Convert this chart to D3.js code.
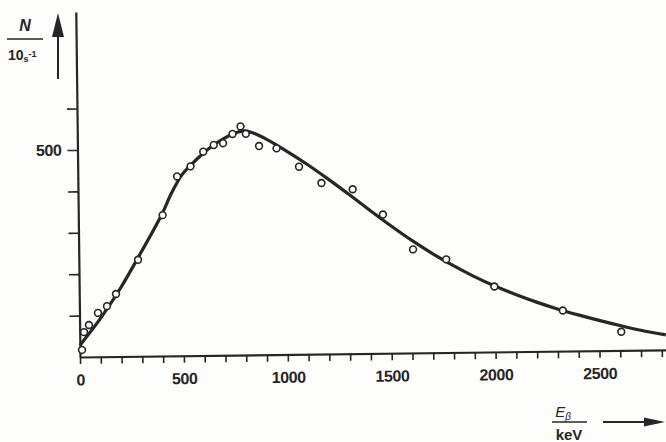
<!DOCTYPE html>
<html>
<head>
<meta charset="utf-8">
<script src="https://cdn.jsdelivr.net/npm/d3@7"></script>
<style>
  body { margin: 0; background: #fdfdfc; }
  svg { display: block; }
  text { font-family: "Liberation Sans", Arial, sans-serif; fill: #262626; }
</style>
</head>
<body>
<div id="chart"></div>
<script>
// measured points (energy in keV, counts)
var pointE = [10, 21, 45, 89, 133, 177, 285, 406, 478, 543, 605, 656, 701, 747, 786, 811, 874, 958, 1065, 1172, 1322, 1466, 1609, 1768, 1998, 2326, 2606];
var pointN = [17, 60, 77, 106, 122, 151, 233, 340, 433, 457, 492, 508, 512, 534, 552, 534, 504, 498, 453, 413, 397, 335, 250, 225, 158, 98, 45];

// fitted curve
var curveE = [0, 100, 200, 300, 400, 450, 500, 550, 600, 650, 700, 750, 800, 850, 900, 1000, 1100, 1200, 1300, 1400, 1500, 1600, 1700, 1800, 1900, 2000, 2100, 2200, 2300, 2400, 2500, 2600, 2700, 2820];
var curveN = [28, 92, 166, 251, 340, 393, 436, 463, 486, 506, 522, 534, 541, 535, 523, 493, 460, 424, 386, 347, 309, 273, 240, 210, 183, 159, 138, 119, 102, 87, 73, 60, 48, 36];

// ticks
var xTicks = d3.range(0, 2900, 100);
var xLabels = [0, 500, 1000, 1500, 2000, 2500];
var yTicks = [100, 200, 300, 400, 500, 600];
var yLabels = [500];

var ink = "#262626";

var svg = d3.select("#chart")
  .append("svg")
    .attr("width", 666)
    .attr("height", 442);

svg.append("rect")
  .attr("width", 666)
  .attr("height", 442)
  .attr("fill", "#fdfdfc");

var x = d3.scaleLinear().domain([0, 2820]).range([80, 666]);
var y = d3.scaleLinear().domain([0, 833]).range([357, 12]);

// the scanned plot is slightly tilted
var g = svg.append("g")
  .attr("transform", "rotate(-0.7,80,357)");

// X axis
var xAxis = g.append("g")
  .attr("transform", "translate(0,357)")
  .call(d3.axisBottom(x)
    .tickValues(xTicks)
    .tickSize(7)
    .tickSizeOuter(0)
    .tickPadding(10)
    .tickFormat(function(d) { return xLabels.indexOf(d) >= 0 ? d : ""; }));

// Y axis
var yAxis = g.append("g")
  .attr("transform", "translate(80,0)")
  .call(d3.axisLeft(y)
    .tickValues(yTicks)
    .tickSize(10)
    .tickSizeOuter(0)
    .tickPadding(6)
    .tickFormat(function(d) { return yLabels.indexOf(d) >= 0 ? d : ""; }));

[xAxis, yAxis].forEach(function(a) {
  a.attr("font-family", null).attr("font-size", null);
  a.select(".domain").attr("stroke", ink).attr("stroke-width", 2.2);
  a.selectAll(".tick line").attr("stroke", ink).attr("stroke-width", 1.6);
  a.selectAll(".tick text")
    .attr("fill", ink)
    .style("font-size", "16px")
    .style("font-weight", "bold")
    .style("letter-spacing", "-0.4px");
});

// fitted curve
var line = d3.line()
  .x(function(d, i) { return x(curveE[i]); })
  .y(function(d, i) { return y(curveN[i]); })
  .curve(d3.curveCatmullRom.alpha(0.5));

g.append("path")
  .datum(curveN)
  .attr("d", line)
  .attr("fill", "none")
  .attr("stroke", ink)
  .attr("stroke-width", 3.2)
  .attr("stroke-linejoin", "round");

// measured points
g.append("g")
  .selectAll("circle")
  .data(pointN)
  .enter().append("circle")
    .attr("cx", function(d, i) { return x(pointE[i]); })
    .attr("cy", function(d) { return y(d); })
    .attr("r", 3.4)
    .attr("fill", "#fdfdfc")
    .attr("stroke", ink)
    .attr("stroke-width", 1.6);

// Y axis title: N / 10 s-1 with arrow
svg.append("text")
  .attr("x", 25).attr("y", 31)
  .attr("text-anchor", "middle")
  .style("font-size", "16px")
  .style("font-style", "italic")
  .style("font-weight", "bold")
  .text("N");

svg.append("line")
  .attr("x1", 7).attr("x2", 43)
  .attr("y1", 39).attr("y2", 39)
  .attr("stroke", ink).attr("stroke-width", 1.5);

var den = svg.append("text")
  .attr("x", 8).attr("y", 60)
  .style("font-size", "14px")
  .style("font-weight", "bold");
den.append("tspan").text("10");
den.append("tspan").attr("dy", 2).style("font-size", "9px").text("s");
den.append("tspan").attr("dy", -5).style("font-size", "9px").text("-1");

svg.append("line")
  .attr("x1", 58).attr("x2", 58)
  .attr("y1", 79).attr("y2", 30)
  .attr("stroke", ink).attr("stroke-width", 2);
svg.append("path")
  .attr("d", "M58,13 L52,37 L64,37 Z")
  .attr("fill", ink);

// X axis title: E_beta / keV with arrow
var et = svg.append("text")
  .attr("x", 563).attr("y", 417)
  .attr("text-anchor", "middle")
  .style("font-size", "15px")
  .style("font-style", "italic");
et.append("tspan").text("E");
et.append("tspan").attr("dy", 3).style("font-size", "10px").text("β");

svg.append("line")
  .attr("x1", 552).attr("x2", 587)
  .attr("y1", 422).attr("y2", 422)
  .attr("stroke", ink).attr("stroke-width", 1.5);

svg.append("text")
  .attr("x", 569).attr("y", 440)
  .attr("text-anchor", "middle")
  .style("font-size", "15px")
  .style("font-weight", "bold")
  .text("keV");

svg.append("line")
  .attr("x1", 603).attr("x2", 648)
  .attr("y1", 422).attr("y2", 422)
  .attr("stroke", ink).attr("stroke-width", 2);
svg.append("path")
  .attr("d", "M665,422 L644,417.5 L644,426.5 Z")
  .attr("fill", ink);
</script>
</body>
</html>
